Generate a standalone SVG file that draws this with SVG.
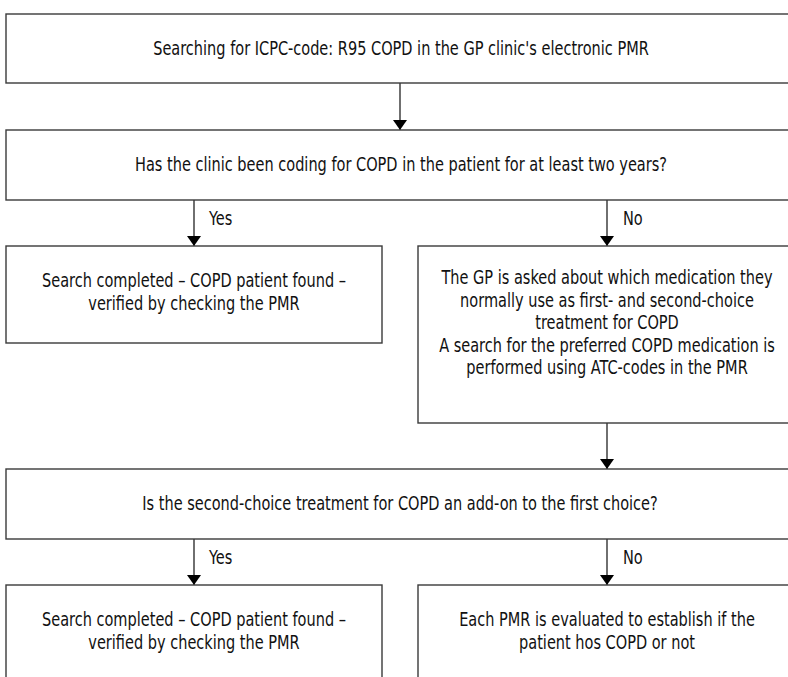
<svg xmlns="http://www.w3.org/2000/svg" width="788" height="677" viewBox="0 0 788 677">
<style>
.box{fill:#ffffff;stroke:#3a3a3a;stroke-width:1.4}
.t{font-family:"Liberation Sans Narrow","DejaVu Sans Condensed","Liberation Sans",sans-serif;font-size:19px;fill:#111111;text-anchor:middle}
.lbl{font-family:"Liberation Sans Narrow","DejaVu Sans Condensed","Liberation Sans",sans-serif;font-size:19px;fill:#111111}
.c{stroke:#333333;stroke-width:1.4;fill:none}
</style>
<defs>
<marker id="ah" viewBox="0 0 10 14" refX="10" refY="7" markerWidth="10" markerHeight="14" markerUnits="userSpaceOnUse" orient="auto">
<path d="M0,0 L10,7 L0,14 Z" fill="#000000"/>
</marker>
</defs>
<rect width="788" height="677" fill="#ffffff"/>
<g id="connectors">
<line class="c" x1="400" y1="83" x2="400" y2="130" marker-end="url(#ah)"/>
<line class="c" x1="194" y1="200" x2="194" y2="246" marker-end="url(#ah)"/>
<line class="c" x1="607" y1="200" x2="607" y2="246" marker-end="url(#ah)"/>
<line class="c" x1="607" y1="423" x2="607" y2="469" marker-end="url(#ah)"/>
<line class="c" x1="194" y1="539" x2="194" y2="585" marker-end="url(#ah)"/>
<line class="c" x1="607" y1="539" x2="607" y2="585" marker-end="url(#ah)"/>
<text class="lbl" transform="translate(209,225) scale(0.85,1)">Yes</text>
<text class="lbl" transform="translate(623,225) scale(0.85,1)">No</text>
<text class="lbl" transform="translate(209,564) scale(0.85,1)">Yes</text>
<text class="lbl" transform="translate(623,564) scale(0.85,1)">No</text>
</g>
<g id="n1">
<rect class="box" x="6" y="14" width="788" height="69"/>
<text class="t" transform="translate(401,55) scale(0.85,1)">Searching for ICPC-code: R95 COPD in the GP clinic's electronic PMR</text>
</g>
<g id="n2">
<rect class="box" x="6" y="130" width="788" height="70"/>
<text class="t" transform="translate(401,171) scale(0.85,1)">Has the clinic been coding for COPD in the patient for at least two years?</text>
</g>
<g id="n3">
<rect class="box" x="6" y="246" width="376" height="97"/>
<text class="t" transform="translate(194,287) scale(0.85,1)">Search completed – COPD patient found –</text>
<text class="t" transform="translate(194,310) scale(0.85,1)">verified by checking the PMR</text>
</g>
<g id="n4">
<rect class="box" x="418" y="246" width="378" height="177"/>
<text class="t" transform="translate(607,284) scale(0.85,1)">The GP is asked about which medication they</text>
<text class="t" transform="translate(607,307) scale(0.85,1)">normally use as first- and second-choice</text>
<text class="t" transform="translate(607,329) scale(0.85,1)">treatment for COPD</text>
<text class="t" transform="translate(607,352) scale(0.85,1)">A search for the preferred COPD medication is</text>
<text class="t" transform="translate(607,374) scale(0.85,1)">performed using ATC-codes in the PMR</text>
</g>
<g id="n5">
<rect class="box" x="6" y="469" width="788" height="70"/>
<text class="t" transform="translate(400,510) scale(0.85,1)">Is the second-choice treatment for COPD an add-on to the first choice?</text>
</g>
<g id="n6">
<rect class="box" x="6" y="585" width="376" height="110"/>
<text class="t" transform="translate(194,626) scale(0.85,1)">Search completed – COPD patient found –</text>
<text class="t" transform="translate(194,649) scale(0.85,1)">verified by checking the PMR</text>
</g>
<g id="n7">
<rect class="box" x="418" y="585" width="378" height="110"/>
<text class="t" transform="translate(607,626) scale(0.85,1)">Each PMR is evaluated to establish if the</text>
<text class="t" transform="translate(607,649) scale(0.85,1)">patient hos COPD or not</text>
</g>
</svg>
